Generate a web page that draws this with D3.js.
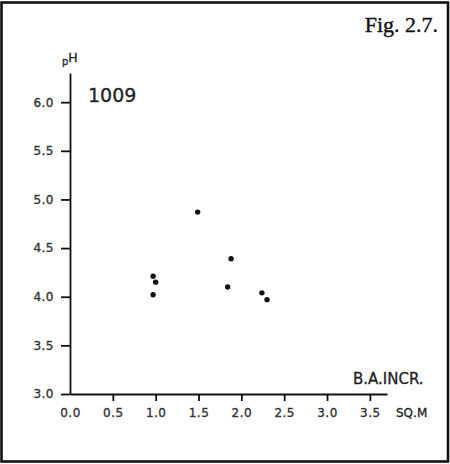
<!DOCTYPE html>
<html>
<head>
<meta charset="utf-8">
<script src="https://cdn.jsdelivr.net/npm/d3@7"></script>
<style>
  body { margin: 0; background: #fff; }
  .axis text { font-family: "DejaVu Sans", sans-serif; font-size: 12px; fill: #333; stroke: #333; stroke-width: 0.35; letter-spacing: 0.5px; }
  .axis path, .axis line { stroke: #111; stroke-width: 1.8; }
  .lbl { font-family: "DejaVu Sans", sans-serif; fill: #222; stroke: #222; stroke-width: 0.3; }
</style>
</head>
<body>
<svg id="chart" width="450" height="464"></svg>
<script>
// Data (basal area increment vs pH, plot 1009)
var baIncr = [1.49, 1.88, 0.97, 1.0, 0.97, 1.84, 2.24, 2.3];
var pH = [4.87, 4.39, 4.21, 4.15, 4.02, 4.1, 4.04, 3.97];
var xTicks = [0, 0.5, 1.0, 1.5, 2.0, 2.5, 3.0, 3.5];
var yTicks = [3.0, 3.5, 4.0, 4.5, 5.0, 5.5, 6.0];

var svg = d3.select("#chart");

// frame round the figure
svg.append("rect")
  .attr("x", 1.5).attr("y", 2.5)
  .attr("width", 446.5).attr("height", 459)
  .attr("fill", "none")
  .attr("stroke", "#111")
  .attr("stroke-width", 2.6);

// scales
var xScale = d3.scaleLinear().domain([0, 3.7]).range([70, 387]);
var yScale = d3.scaleLinear().domain([3, 6.3]).range([394, 73]);

var xAxis = d3.axisBottom(xScale)
  .tickValues(xTicks)
  .tickSize(7).tickSizeOuter(0).tickPadding(7)
  .tickFormat(d3.format(".1f"));
var yAxis = d3.axisLeft(yScale)
  .tickValues(yTicks)
  .tickSize(9).tickSizeOuter(0).tickPadding(7)
  .tickFormat(d3.format(".1f"));

svg.append("g")
  .attr("class", "x axis")
  .attr("transform", "translate(0," + yScale(3) + ")")
  .call(xAxis);

svg.append("g")
  .attr("class", "y axis")
  .attr("transform", "translate(" + xScale(0) + ",0)")
  .call(yAxis);

// x tick on 0.0 sits under the y axis; hide duplicate
svg.selectAll(".x.axis .tick line").filter(function(d) { return d === 0; }).remove();

// points
svg.selectAll("circle.pt")
  .data(baIncr)
  .enter()
  .append("circle")
  .attr("class", "pt")
  .attr("cx", function(d) { return xScale(d); })
  .attr("cy", function(d, i) { return yScale(pH[i]); })
  .attr("r", 2.7)
  .style("fill", "#111");

// labels
var pHLabel = svg.append("text")
  .attr("class", "lbl")
  .attr("x", 62).attr("y", 65);
pHLabel.append("tspan").style("font-size", "10px").text("p");
pHLabel.append("tspan").attr("dy", -3).style("font-size", "12.5px").text("H");

svg.append("text")
  .attr("class", "lbl")
  .attr("x", 88).attr("y", 102)
  .style("font-size", "19px")
  .text("1009");

svg.append("text")
  .attr("class", "lbl")
  .attr("x", 353).attr("y", 384)
  .style("font-size", "15px")
  .text("B.A.INCR.");

svg.append("text")
  .attr("class", "lbl")
  .attr("x", 396).attr("y", 417)
  .style("font-size", "12px")
  .text("SQ.M");

svg.append("text")
  .attr("x", 438).attr("y", 32)
  .attr("text-anchor", "end")
  .style("font-family", "'Liberation Serif', 'Times New Roman', serif")
  .style("font-size", "22px")
  .style("fill", "#111")
  .style("stroke", "#111")
  .style("stroke-width", 0.4)
  .text("Fig. 2.7.");
</script>
</body>
</html>
